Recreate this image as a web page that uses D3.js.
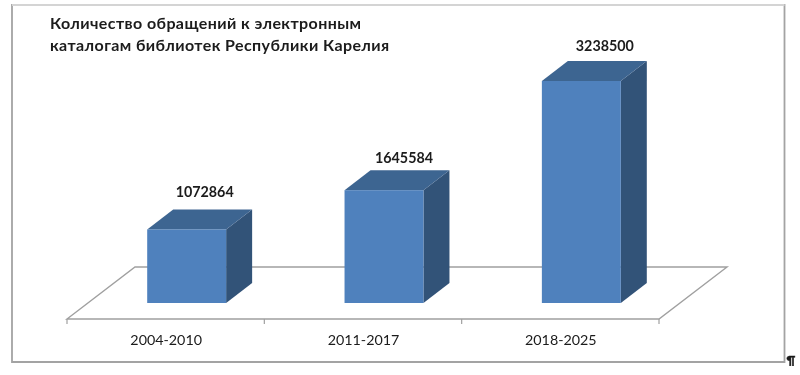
<!DOCTYPE html>
<html>
<head>
<meta charset="utf-8">
<script src="https://cdn.jsdelivr.net/npm/d3@7"></script>
<style>
  html, body { margin: 0; padding: 0; background: #fff; }
  text { font-family: Lato, "Noto Sans", sans-serif; fill: #1a1a1a; }
</style>
</head>
<body>
<div id="chart"></div>
<script>
const categories = ["2004-2010", "2011-2017", "2018-2025"];
const values = [1072864, 1645584, 3238500];
const titleLines = ["Количество обращений к электронным", "каталогам библиотек Республики Карелия"];

const width = 800, height = 375;
const depthX = 26, depthY = 20; // 3d offset of the bars
const floorDx = 68, floorDy = 52;
const floorFront = 319, barBase = 303;
// labels were dragged by hand in the original
const labelNudge = [[18, -32], [20, -27], [23.5, -30]];

const svg = d3.select("#chart")
    .append("svg")
    .attr("width", width)
    .attr("height", height)
    .style("display", "block");

// soft look of the original screenshot
svg.append("filter").attr("id", "soft")
    .append("feGaussianBlur").attr("stdDeviation", 0.4);
const root = svg.append("g").attr("filter", "url(#soft)");

// outer frame
root.append("path")
    .attr("d", "M12,362V5H784.5V362Z")
    .attr("fill", "#fff")
    .attr("stroke", "#a3a3a3")
    .attr("stroke-width", 1.8);
root.append("path")
    .attr("d", "M12,5H784.5")
    .attr("fill", "none")
    .attr("stroke", "#d4d4d4")
    .attr("stroke-width", 1.8);

const x = d3.scaleBand().domain(categories).range([67, 659]);
const barX = d3.scaleBand().domain(categories).range([88, 680])
    .paddingInner(0.6).paddingOuter(0.3);
const y = d3.scaleLinear().domain([0, 3238500]).range([barBase, 81]);

// floor
const x0 = x.range()[0], x1 = x.range()[1];
root.append("path")
    .attr("d", `M${x0},${floorFront}L${x0 + floorDx},${floorFront - floorDy}H${x1 + floorDx}L${x1},${floorFront}Z`)
    .attr("fill", "#fff")
    .attr("stroke", "#a0a0a0")
    .attr("stroke-width", 1.4);

// tick marks between categories
root.append("g").selectAll("line")
    .data(categories.map(d => x(d)).concat(x1))
    .join("line")
    .attr("x1", d => d).attr("x2", d => d)
    .attr("y1", floorFront).attr("y2", floorFront + 5)
    .attr("stroke", "#a0a0a0")
    .attr("stroke-width", 1.2);

// category labels
const xAxis = d3.axisBottom(x).tickSize(0).tickPadding(0);
const axisG = root.append("g")
    .attr("transform", `translate(0,${floorFront + 14})`)
    .call(xAxis);
axisG.select(".domain").remove();
axisG.selectAll("text")
    .attr("dy", 0)
    .attr("y", 12)
    .attr("dx", 0.5)
    .style("font-family", "Lato, 'Noto Sans', sans-serif")
    .style("font-size", "14.3px")
    .attr("fill", "#1a1a1a");

// bars
const bars = root.selectAll(".bar")
    .data(categories.map((c, i) => ({ c, v: values[i], i })))
    .join("g")
    .attr("class", "bar");

bars.append("path") // side
    .attr("d", d => {
        const r = barX(d.c) + barX.bandwidth();
        return `M${r},${y(d.v)}l${depthX},${-depthY}V${barBase - depthY}L${r},${barBase}Z`;
    })
    .attr("fill", "#325278");

bars.append("path") // top
    .attr("d", d => {
        const l = barX(d.c), w = barX.bandwidth();
        return `M${l},${y(d.v)}l${depthX},${-depthY}h${w}l${-depthX},${depthY}Z`;
    })
    .attr("fill", "#3e6591");

bars.append("rect") // front
    .attr("x", d => barX(d.c))
    .attr("y", d => y(d.v))
    .attr("width", barX.bandwidth())
    .attr("height", d => barBase - y(d.v))
    .attr("fill", "#4f81bd");

// value labels
bars.append("text")
    .attr("x", d => barX(d.c) + barX.bandwidth() / 2 + labelNudge[d.i][0])
    .attr("y", d => y(d.v) + labelNudge[d.i][1])
    .attr("text-anchor", "middle")
    .style("font-size", "14.3px")
    .style("font-weight", "bold")
    .text(d => d.v);

// title
root.append("g").selectAll("text")
    .data(titleLines)
    .join("text")
    .attr("x", 50)
    .attr("y", (d, i) => 29 + i * 22)
    .style("font-size", "16px")
    .style("font-weight", "bold")
    .style("letter-spacing", "0.41px")
    .text(d => d);

// pilcrow after the frame
root.append("text")
    .attr("x", 786.5)
    .attr("y", 364)
    .style("font-size", "12px")
    .style("font-weight", "bold")
    .attr("stroke", "#1a1a1a")
    .attr("stroke-width", 0.5)
    .text("¶");
</script>
</body>
</html>
